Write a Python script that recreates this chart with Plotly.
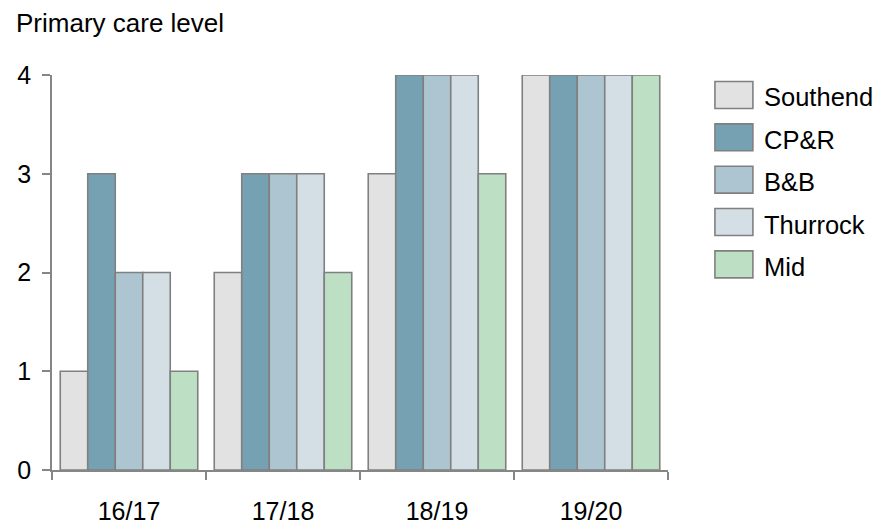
import plotly.graph_objects as go

categories = ["16/17", "17/18", "18/19", "19/20"]
series_names = ["Southend", "CP&R", "B&B", "Thurrock", "Mid"]
southend = [1, 2, 3, 4]
cpr = [3, 3, 4, 4]
bb = [2, 3, 4, 4]
thurrock = [2, 3, 4, 4]
mid = [1, 2, 3, 4]
series_values = [southend, cpr, bb, thurrock, mid]
colors = ["#E2E2E2", "#76A1B3", "#ADC5D0", "#D3DEE5", "#BDDFC4"]
y_ticks = [0, 1, 2, 3, 4]

# the page body adds an 8px margin, so the figure is 8px smaller
OFF = 8
W, H = 881 - OFF, 524 - OFF
L, R, T, B = 51.7 - OFF, 212.5, 74.5 - OFF, 54
PW = W - L - R
PH = H - T - B


def px(x):
    return (x - OFF - L) / PW


def py(y):
    return (H - B - (y - OFF)) / PH


FONT = "Liberation Sans, Arial, sans-serif"
EDGE = "#808080"
AXIS = "#868686"

fig = go.Figure()
for name, vals, col in zip(series_names, series_values, colors):
    fig.add_trace(go.Bar(
        x=categories, y=vals, name=name,
        marker=dict(color=col, line=dict(color=EDGE, width=1.6)),
        showlegend=False,
    ))

shapes = []
annotations = []
# legend drawn with large swatches
for i, (name, col) in enumerate(zip(series_names, colors)):
    cy = 94.5 + i * 42.4
    shapes.append(dict(type="rect", xref="paper", yref="paper",
                       x0=px(715.5), x1=px(753.5), y0=py(cy - 13.5), y1=py(cy + 13.5),
                       fillcolor=col, line=dict(color=EDGE, width=1.6)))
    annotations.append(dict(text=name, xref="paper", yref="paper",
                            x=px(763), y=py(cy + 2.5), xanchor="left", yanchor="middle",
                            showarrow=False,
                            font=dict(size=25.5, color="#000000", family=FONT)))

annotations.append(dict(text="Primary care level", xref="paper", yref="paper",
                        x=px(14), y=py(22), xanchor="left", yanchor="middle",
                        showarrow=False, font=dict(size=26, color="#000000", family=FONT)))

fig.update_layout(
    template="none",
    width=W, height=H,
    margin=dict(l=L, r=R, t=T, b=B, pad=0),
    paper_bgcolor="white", plot_bgcolor="white",
    barmode="group", bargap=0.107, bargroupgap=0,
    font=dict(family=FONT, size=25, color="#000000"),
    shapes=shapes, annotations=annotations,
    showlegend=False,
)
fig.update_xaxes(
    type="category", showgrid=False, zeroline=False, automargin=False,
    showline=True, linecolor=AXIS, linewidth=1.6,
    ticks="outside", ticklen=8, tickcolor=AXIS, tickwidth=1.6,
    tickson="boundaries", ticklabelstandoff=18,
    tickfont=dict(size=25, family=FONT, color="#000000"),
)
fig.update_yaxes(
    range=[0, 4], tickvals=y_ticks, showgrid=False, zeroline=False, automargin=False,
    showline=True, linecolor=AXIS, linewidth=1.6,
    ticks="outside", ticklen=8, tickcolor=AXIS, tickwidth=1.6,
    ticklabelstandoff=6,
    tickfont=dict(size=25, family=FONT, color="#000000"),
)

fig.write_html("out.html")
